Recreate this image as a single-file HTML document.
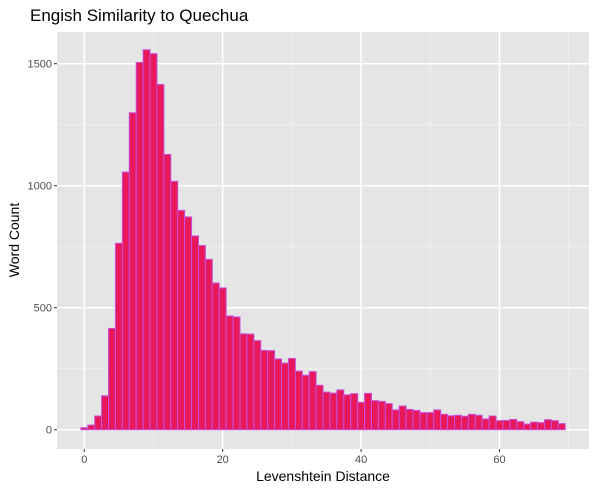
<!DOCTYPE html>
<html><head><meta charset="utf-8"><style>
body{margin:0;background:#fff;}
svg{display:block;font-family:"Liberation Sans",sans-serif;}
</style></head><body>
<svg id="chart" width="596" height="491" viewBox="0 0 596 491" xmlns="http://www.w3.org/2000/svg">
<text x="30" y="21" font-size="17" fill="#000">Engish Similarity to Quechua</text>
<rect x="57" y="32" width="532" height="417" fill="#e5e5e5"/>
<g id="grid"></g>
<g id="bars"></g>
<g id="axes"></g>
<text x="323" y="481" font-size="14" text-anchor="middle" fill="#000">Levenshtein Distance</text>
<text transform="translate(19,240) rotate(-90)" font-size="14" text-anchor="middle" fill="#000">Word Count</text>
</svg>
<script>
const distances = [];
for (let i = 0; i < 70; i++) distances.push(i);
const counts = [8,19,56,139,415,764,1056,1299,1505,1557,1541,1415,1128,1018,899,872,794,755,698,601,581,466,462,393,392,365,325,324,290,273,292,240,223,238,182,154,150,163,143,148,112,149,119,116,107,81,97,83,79,70,70,81,63,57,59,55,63,59,44,56,37,38,42,33,23,31,29,41,37,25];
const yTicks = [0,500,1000,1500];
const yMinor = [250,750,1250];
const xTicks = [0,20,40,60];
const xMinor = [10,30,50,70];

const NS = "http://www.w3.org/2000/svg";
const X = v => 84.3 + 6.92 * v;
const Y = v => 429.7 - 0.244 * v;
const L = 57, R = 589, T = 32, B = 449;
function mk(tag, attrs, parent) {
  const e = document.createElementNS(NS, tag);
  for (const k in attrs) e.setAttribute(k, attrs[k]);
  parent.appendChild(e);
  return e;
}
const grid = document.getElementById('grid');
const bars = document.getElementById('bars');
const axes = document.getElementById('axes');
yMinor.forEach(v => {
  const l = mk('line', {x1: L, x2: R, y1: Y(v), y2: Y(v), stroke: '#f2f2f2', 'stroke-width': 0.8}, grid);
  
  
});
xMinor.forEach(v => {
  const l = mk('line', {x1: X(v), x2: X(v), y1: T, y2: B, stroke: '#f2f2f2', 'stroke-width': 0.8}, grid);
  
  
});
yTicks.forEach(v => {
  const l = mk('line', {x1: L, x2: R, y1: Y(v), y2: Y(v), stroke: '#fff', 'stroke-width': 1.5}, grid);
  
  
  const t = mk('line', {x1: L - 3, x2: L, y1: Y(v), y2: Y(v), stroke: '#333', 'stroke-width': 1}, axes);
  
  
  const tx = mk('text', {x: L - 5, y: Y(v) + 4, 'font-size': 11, 'text-anchor': 'end', fill: '#4d4d4d'}, axes);
  tx.textContent = v;
  
  
});
xTicks.forEach(v => {
  const l = mk('line', {x1: X(v), x2: X(v), y1: T, y2: B, stroke: '#fff', 'stroke-width': 1.5}, grid);
  
  
  const t = mk('line', {x1: X(v), x2: X(v), y1: B, y2: B + 3, stroke: '#333', 'stroke-width': 1}, axes);
  
  
  const tx = mk('text', {x: X(v), y: B + 14, 'font-size': 11, 'text-anchor': 'middle', fill: '#4d4d4d'}, axes);
  tx.textContent = v;
  
  
});
distances.forEach((d, i) => {
  const x0 = X(d - 0.5), x1 = X(d + 0.5);
  const y = Y(counts[i]);
  const r = mk('rect', {x: x0, y: y, width: x1 - x0, height: Y(0) - y, fill: '#e8185a', stroke: '#c84fdc', 'stroke-width': 1}, bars);
  
  
});
</script>
</body></html>
